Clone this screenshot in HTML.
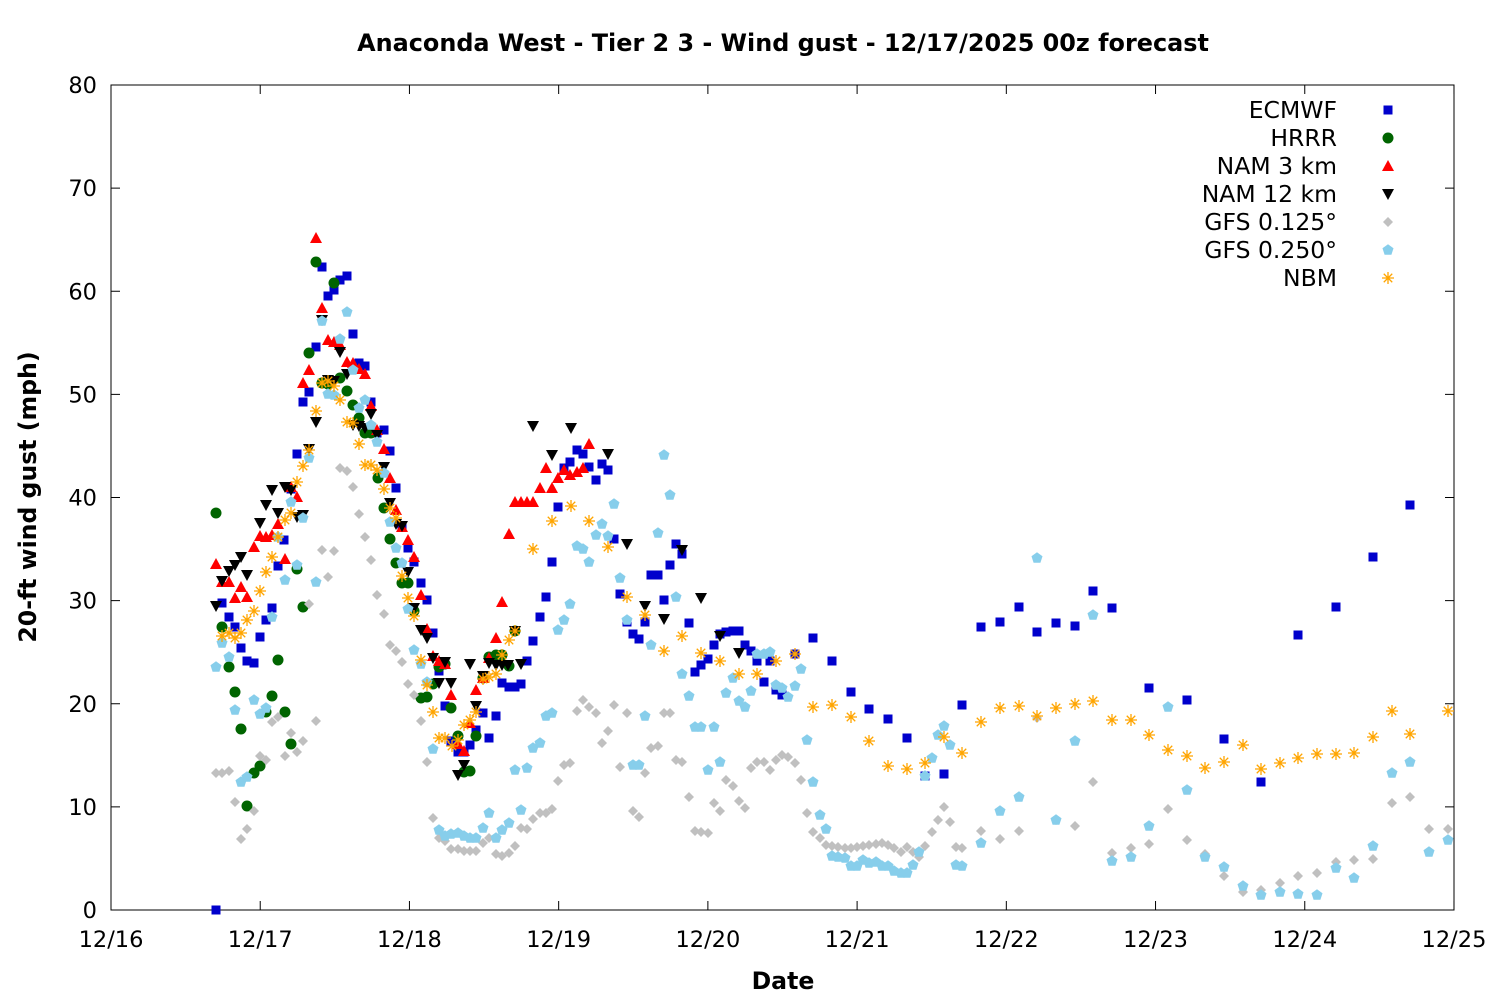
<!DOCTYPE html>
<html><head><meta charset="utf-8"><style>
html,body{margin:0;padding:0;background:#fff;}
svg{display:block;font-family:"DejaVu Sans","Liberation Sans",sans-serif;}
</style></head><body>
<svg id="s" width="1500" height="1000" xmlns="http://www.w3.org/2000/svg">
<rect width="1500" height="1000" fill="#fff"/>
<text x="783" y="51" text-anchor="middle" font-size="23.9" font-weight="bold">Anaconda West - Tier 2 3 - Wind gust - 12/17/2025 00z forecast</text>
<rect x="111" y="85" width="1343" height="825" fill="none" stroke="#000" stroke-width="1"/>
<g id="ax" font-size="22.5"></g>
<text x="783" y="989" text-anchor="middle" font-size="23.6" font-weight="bold">Date</text>
<text transform="translate(36,497) rotate(-90)" text-anchor="middle" font-size="23.6" font-weight="bold">20-ft wind gust (mph)</text>
<g id="pts"></g>
<g id="leg" font-size="23.5"></g>
</svg>
<script>
var NS="http://www.w3.org/2000/svg";
function el(p,t,a,txt){var e=document.createElementNS(NS,t);for(var k in a)e.setAttribute(k,a[k]);if(txt!==undefined)e.textContent=txt;p.appendChild(e);return e;}
var ax=document.getElementById('ax');
for(var v=0;v<=80;v+=10){var y=910-v*10.3125;
 el(ax,'line',{x1:111,x2:120,y1:y,y2:y,stroke:'#000'});el(ax,'line',{x1:1445,x2:1454,y1:y,y2:y,stroke:'#000'});
 el(ax,'text',{x:97,y:y+8,'text-anchor':'end'},String(v));}
var days=['12/16','12/17','12/18','12/19','12/20','12/21','12/22','12/23','12/24','12/25'];
for(var i=0;i<9.5;i++){var x=111+i*149.22;
 el(ax,'line',{x1:x,x2:x,y1:901,y2:910,stroke:'#000'});el(ax,'line',{x1:x,x2:x,y1:85,y2:94,stroke:'#000'});
 el(ax,'text',{x:x,y:947,'text-anchor':'middle'},days[i]);}
function sym(g,type,x,y){
 switch(type){
 case 'sq':el(g,'rect',{x:x-4.5,y:y-4.5,width:9,height:9,fill:'#0000cc'});break;
 case 'ci':el(g,'circle',{cx:x,cy:y,r:5.5,fill:'#006400'});break;
 case 'tu':el(g,'polygon',{points:(x-6)+','+(y+5)+' '+(x+6)+','+(y+5)+' '+x+','+(y-6),fill:'#ff0000'});break;
 case 'td':el(g,'polygon',{points:(x-6)+','+(y-5)+' '+(x+6)+','+(y-5)+' '+x+','+(y+6),fill:'#000'});break;
 case 'di':el(g,'polygon',{points:x+','+(y-5)+' '+(x+5)+','+y+' '+x+','+(y+5)+' '+(x-5)+','+y,fill:'#c0c0c0'});break;
 case 'pe':var p='';for(var k=0;k<5;k++){var a=-Math.PI/2+k*2*Math.PI/5;p+=(x+5.8*Math.cos(a))+','+(y+5.8*Math.sin(a))+' ';}el(g,'polygon',{points:p,fill:'#87ceeb'});break;
 case 'as':var d='';for(var k=0;k<4;k++){var a=k*Math.PI/4;d+='M'+(x-6*Math.cos(a))+' '+(y-6*Math.sin(a))+'L'+(x+6*Math.cos(a))+' '+(y+6*Math.sin(a));}el(g,'path',{d:d,stroke:'#ffa500','stroke-width':1.3,fill:'none'});break;}
}
function P(s){var a=s.split(/[\s,]+/).map(Number),r=[];for(var i=0;i+1<a.length;i+=2)r.push([a[i],a[i+1]]);return r;}
var data={
sq:P("216,910 222,603 229,617 235,627 241,648 247,661 254,663 260,637 266,620 272,608 278,566 284,540 291,489 297,454 303,402 309,392 316,347 322,267 328,296 334,290 340,280 347,276 353,334 359,363 365,366 371,402 377,433 384,430 390,451 396,488 402,526 408,548 414,562 421,583 427,600 433,633 439,671 445,706 451,741 458,752 464,752 470,745 476,730 483,713 489,738 496,716 502,683 509,687 515,687 521,684 527,661 533,641 540,617 546,597 552,562 558,507 564,468 570,462 577,450 583,454 589,467 596,480 602,464 608,470 614,539 620,594 627,622 633,634 639,639 645,622 651,575 658,575 664,600 670,565 676,544 682,554 689,623 695,672 701,665 708,659 714,645 720,634 726,632 733,631 739,631 745,645 751,651 757,661 764,682 770,661 776,690 782,695 795,654 813,638 832,661 851,692 869,709 888,719 907,738 925,776 944,774 962,705 981,627 1000,622 1019,607 1037,632 1056,623 1075,626 1093,591 1112,608 1149,688 1187,700 1224,739 1261,782 1298,635 1336,607 1373,557 1410,505"),
ci:P("216,513 222,627 229,667 235,692 241,729 247,806 254,773 260,766 266,712 272,696 278,660 285,712 291,744 297,569 303,607 309,353 316,262 322,383 328,384 334,283 340,378 347,391 353,405 359,418 365,433 371,433 378,478 384,508 390,539 396,563 402,583 408,583 414,611 421,698 427,697 433,684 439,667 445,664 451,708 458,736 464,772 470,771 476,736 483,678 489,657 496,655 502,655 509,666 515,631"),
tu:P("216,564 222,582 229,582 235,598 241,587 247,597 254,547 260,536 266,537 272,535 278,524 285,559 291,487 297,497 303,383 309,370 316,238 322,308 328,340 334,342 340,345 347,362 353,363 359,369 365,374 371,406 377,430 384,449 390,478 396,510 402,527 408,540 414,557 421,595 427,629 433,656 439,661 445,664 451,695 458,744 464,751 470,723 476,690 483,678 489,658 496,638 502,602 509,534 515,502 521,502 527,502 533,502 540,488 546,468 552,488 558,478 564,470 570,475 577,472 583,468 589,444"),
td:P("216,606 222,581 229,571 235,565 241,557 247,575 260,523 266,505 272,490 278,513 285,487 291,490 297,517 303,515 309,449 316,422 322,320 328,380 334,381 340,352 347,374 353,425 359,426 365,428 371,414 377,435 384,467 390,503 396,524 402,526 408,572 414,608 421,630 427,638 433,658 439,683 445,662 451,683 458,775 464,765 470,664 476,706 483,676 489,663 496,665 502,665 508,665 515,631 521,664 533,426 552,455 571,428 608,454 627,544 645,606 664,619 682,550 701,598 720,636 739,653"),
di:P("216,773 222,773 229,771 235,802 241,839 247,829 254,811 260,756 266,760 272,722 278,717 285,756 291,733 297,752 303,741 309,604 316,721 322,550 328,577 334,551 340,468 347,471 353,487 359,514 365,537 371,560 377,595 384,614 390,645 396,651 402,662 408,684 414,695 421,721 427,762 433,818 439,838 445,841 451,849 458,849 464,851 470,851 476,851 483,843 489,838 496,854 502,856 509,853 515,846 521,828 527,829 533,819 540,813 546,813 552,809 558,781 564,765 570,763 577,711 583,700 589,707 596,713 602,743 608,731 614,705 620,767 627,713 633,811 639,817 645,773 651,748 658,746 664,713 670,713 676,760 682,762 689,797 695,831 701,832 708,833 714,803 720,811 726,780 733,786 739,801 745,808 751,768 757,762 764,762 770,770 776,760 782,755 788,757 795,763 801,780 807,813 813,832 820,838 826,845 832,846 838,847 845,848 851,848 857,847 863,846 869,845 876,844 882,843 888,845 894,848 901,852 907,847 913,852 919,857 925,846 932,832 938,820 944,807 950,822 956,847 962,848 981,831 1000,839 1019,831 1037,718 1056,820 1075,826 1093,782 1112,853 1131,848 1149,844 1168,809 1187,840 1205,854 1224,876 1243,892 1261,890 1280,883 1298,876 1317,873 1336,862 1354,860 1373,859 1392,803 1410,797 1429,829 1448,829"),
pe:P("216,667 222,643 229,657 235,710 241,782 247,777 254,700 260,714 266,708 272,617 278,537 285,580 291,502 297,565 303,518 309,458 316,582 322,321 328,394 334,395 340,339 347,312 353,370 359,408 365,400 371,425 377,442 384,473 390,522 396,548 402,563 408,609 414,650 421,664 427,682 433,749 439,830 445,836 451,834 458,833 464,836 470,838 476,838 483,828 489,813 496,838 502,830 509,823 515,770 521,810 527,768 533,748 540,743 546,716 552,713 558,630 564,620 570,604 577,546 583,549 589,562 596,535 602,524 608,536 614,504 620,578 627,620 633,765 639,765 645,716 651,645 658,533 664,455 670,495 676,597 682,674 689,696 695,727 701,727 708,770 714,727 720,762 726,693 733,678 739,701 745,707 751,691 757,654 764,654 770,652 776,685 782,688 788,697 795,686 801,669 807,740 813,782 820,815 826,829 832,856 838,857 845,858 851,866 857,866 863,860 869,863 876,862 882,866 888,866 894,871 901,873 907,873 913,865 919,852 925,776 932,758 938,735 944,726 950,745 956,865 962,866 981,843 1000,811 1019,797 1037,558 1056,820 1075,741 1093,615 1112,861 1131,857 1149,826 1168,707 1187,790 1205,857 1224,867 1243,886 1261,895 1280,892 1298,894 1317,895 1336,868 1354,878 1373,846 1392,773 1410,762 1429,852 1448,840"),
as:P("222,636 229,633 235,638 241,633 247,620 254,611 260,591 266,572 272,557 278,537 285,520 291,513 297,482 303,466 309,450 316,411 322,383 328,381 334,386 340,400 347,422 353,423 359,444 365,465 371,465 377,470 384,489 390,508 396,518 402,576 408,598 414,616 421,660 427,685 433,712 439,738 445,738 452,746 458,740 464,725 470,720 476,712 483,679 489,677 496,674 502,655 509,640 515,631 533,549 552,521 571,506 589,521 608,547 627,597 645,615 664,651 682,636 701,653 720,661 739,674 757,674 776,661 795,654 813,707 832,705 851,717 869,741 888,766 907,769 925,763 944,737 962,753 981,722 1000,708 1019,706 1037,716 1056,708 1075,704 1093,701 1112,720 1131,720 1149,735 1168,750 1187,756 1205,768 1224,762 1243,745 1261,769 1280,763 1298,758 1317,754 1336,754 1354,753 1373,737 1392,711 1410,734 1448,711")
};
var g=document.getElementById('pts');
['sq','ci','tu','td','di','pe','as'].forEach(function(t){data[t].forEach(function(p){sym(g,t,p[0],p[1]);});});
var leg=document.getElementById('leg');
var names=[['ECMWF','sq'],['HRRR','ci'],['NAM 3 km','tu'],['NAM 12 km','td'],['GFS 0.125°','di'],['GFS 0.250°','pe'],['NBM','as']];
names.forEach(function(n,i){var y=110+i*28;el(leg,'text',{x:1337,y:y+8,'text-anchor':'end'},n[0]);sym(leg,n[1],1388,y);});
</script>
</body></html>
